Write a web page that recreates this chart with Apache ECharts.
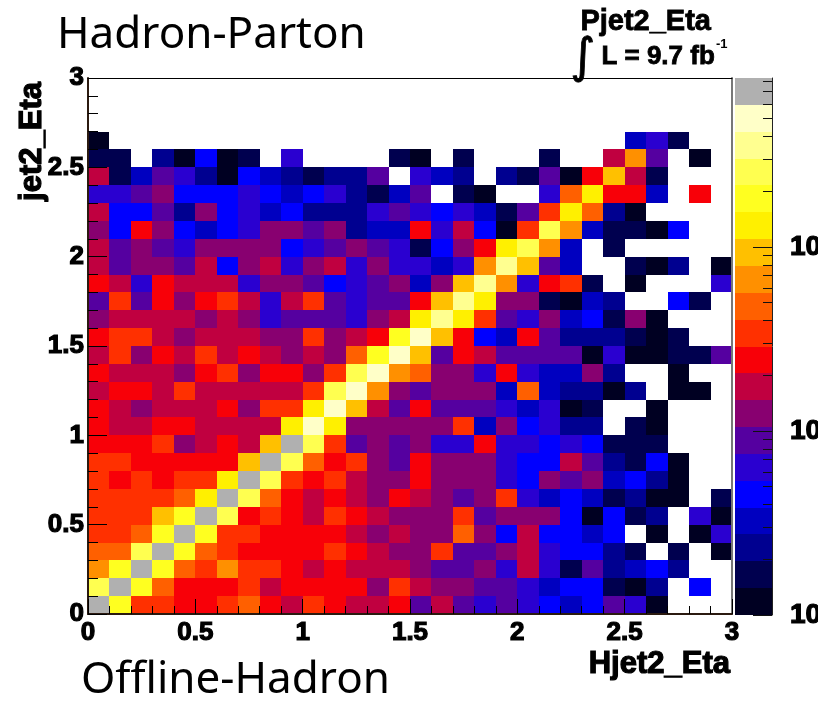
<!DOCTYPE html>
<html><head><meta charset="utf-8">
<style>html,body{margin:0;padding:0;background:#fff;overflow:hidden}#c{width:818px;height:703px}</style>
<script src="https://cdn.jsdelivr.net/npm/echarts@6/dist/echarts.min.js"></script>
</head><body><div id="c"></div>
<script>
const _ = null;
// palette: bottom band to top band of the colour scale
const palette = ['#000022','#00004f','#000090','#0000c0','#0000ff','#2a00d0','#5500a0','#880070','#c00040','#f80008','#ff3000','#ff6000','#ff9000','#ffc000','#fff000','#ffff20','#ffff50','#ffff90','#ffffc8','#b0b0b0'];
const bandLevels = [0,1,2,3,4,5,6,7,8,9,10,11,12,13,14,15,16,17,18,19];
// colour-scale level per bin; row00 is the lowest jet2_Eta row
const row29 = [_,_,_,_,_,_,_,_,_,_,_,_,_,_,_,_,_,_,_,_,_,_,_,_,_,_,_,_,_,_];
const row28 = row29, row27 = row29;
const row26 = [0,_,_,_,_,_,_,_,_,_,_,_,_,_,_,_,_,_,_,_,_,_,_,_,_,3,5,1,_,_];
const row25 = [1,1,_,2,0,4,0,1,_,5,_,_,_,_,1,0,_,1,_,_,_,1,_,_,8,12,6,_,0,_];
const row24 = [8,1,3,6,5,2,0,4,3,2,1,2,2,6,_,5,3,2,_,2,1,6,0,9,13,8,1,_,_,_];
const row23 = [5,5,6,7,4,4,4,5,4,3,4,5,2,1,3,6,_,1,0,_,_,5,11,14,9,9,3,_,9,_];
const row22 = [8,4,4,6,2,7,4,5,3,4,2,2,2,5,6,5,4,5,3,1,6,10,14,11,2,0,_,_,_,_];
const row21 = [7,4,9,7,4,3,4,5,7,7,6,7,2,3,3,9,5,8,4,0,10,16,12,3,1,1,0,4,_,_];
const row20 = [8,6,7,6,5,7,7,7,7,4,5,6,7,6,5,1,4,7,9,14,16,12,3,_,1,_,_,_,_,_];
const row19 = [8,6,7,7,6,8,4,7,8,5,7,8,5,7,5,5,3,5,12,17,13,6,3,_,_,1,0,2,_,0];
const row18 = [9,8,5,9,8,8,8,5,7,7,6,4,5,6,7,3,7,13,17,12,5,9,10,1,_,0,_,_,_,5];
const row17 = [6,10,6,9,7,9,10,8,5,8,10,6,5,6,6,9,13,17,14,7,7,1,0,3,2,_,_,4,1,_];
const row16 = [7,8,8,8,8,7,8,7,5,6,6,6,5,7,8,14,17,14,10,6,5,7,3,4,1,7,0,_,_,_];
const row15 = [9,10,10,8,7,8,8,8,7,7,10,7,8,9,15,18,13,9,4,3,9,6,2,2,2,1,0,1,_,_];
const row14 = [8,10,7,9,8,10,8,9,8,7,8,7,11,15,18,13,6,9,8,6,6,6,6,0,5,0,0,1,1,6];
const row13 = [9,8,8,8,7,9,10,7,9,9,7,10,16,18,12,11,7,7,5,9,5,3,3,7,2,_,_,0,_,_];
const row12 = [8,9,9,8,10,8,8,8,8,8,10,16,18,12,7,6,7,7,7,3,11,3,2,2,0,2,_,0,0,_];
const row11 = [9,8,7,8,8,8,9,7,10,10,14,18,13,8,6,9,6,6,6,5,3,5,0,1,_,_,0,_,_,_];
const row10 = [9,8,8,9,9,8,8,8,8,14,18,14,7,7,7,7,7,10,3,7,4,5,2,2,_,1,0,_,_,_];
const row09 = [9,9,9,10,7,8,9,8,13,19,16,10,6,7,6,7,5,5,9,5,5,4,5,4,1,1,1,_,_,_];
const row08 = [10,10,9,9,9,9,9,13,19,16,11,9,10,7,6,9,7,7,7,5,4,4,8,6,2,1,4,0,_,_];
const row07 = [10,9,10,9,10,10,14,19,16,10,9,10,8,7,7,9,7,7,7,5,4,7,6,7,3,4,2,0,_,_];
const row06 = [10,10,10,10,11,14,19,16,11,9,8,9,8,7,9,8,7,6,7,10,5,3,4,3,1,2,0,0,_,1];
const row05 = [10,10,10,13,15,19,16,9,10,9,8,10,9,8,7,7,7,10,6,7,7,7,4,0,4,1,2,_,5,0];
const row04 = [10,10,11,15,19,15,10,10,9,9,9,9,8,7,8,7,7,11,7,4,8,4,4,3,4,_,0,_,0,5];
const row03 = [11,11,16,19,15,11,10,9,9,9,9,10,9,8,7,7,10,6,6,7,8,5,4,4,2,1,_,1,_,0];
const row02 = [12,15,19,15,11,10,12,10,10,9,8,9,8,8,8,7,6,6,7,5,8,5,1,6,2,3,4,2,_,_];
const row01 = [16,19,15,11,9,9,9,10,8,9,9,9,9,7,10,8,7,7,6,6,5,3,4,4,1,0,2,_,4,_];
const row00 = [19,15,10,10,9,9,10,11,9,8,10,9,8,8,9,6,8,6,5,6,5,4,3,4,6,5,0,_,_,_];
const rows = [row00,row01,row02,row03,row04,row05,row06,row07,row08,row09,row10,row11,row12,row13,row14,row15,row16,row17,row18,row19,row20,row21,row22,row23,row24,row25,row26,row27,row28,row29];
const binWidth = 0.1;
const zMajorTicks = [1,10,100];
const zMinorTicks = [2,3,4,5,6,7,8,9,20,30,40,50,60,70,80,90,200,300,400,500,600,700,800];
const zMax = 829;

const cells = [];
rows.forEach((row, r) => row.forEach((lvl, c) => { if (lvl !== null) cells.push([c * binWidth, r * binWidth, lvl]); }));

const BOLD = 'Liberation Sans';
const tickLabel = {color:'#000', fontFamily:BOLD, fontWeight:'bold', fontSize:26, textBorderColor:'#000', textBorderWidth:1.2};
const R = Math.round;

const chart = echarts.init(document.getElementById('c'), null, {renderer:'canvas'});
chart.setOption({
  animation:false,
  backgroundColor:'#fff',
  grid:[
    {left:88, top:78, width:644, height:536, show:false, outerBoundsMode:'none'},
    {left:735, top:78, width:37, height:537, show:false, outerBoundsMode:'none'}
  ],
  xAxis:[
    {gridIndex:0, type:'value', min:0, max:3, interval:0.5, z:10, position:'bottom',
     name:'Hjet2_Eta', nameLocation:'end', nameGap:2, nameMoveOverlap:false,
     nameTextStyle:{color:'#000', fontFamily:BOLD, fontWeight:'bold', fontSize:31, align:'right', verticalAlign:'top', padding:[35,4,0,0], textBorderColor:'#000', textBorderWidth:1.2},
     axisLine:{show:true, onZero:false, lineStyle:{color:'#2b1a10', width:2}},
     axisTick:{show:true, inside:true, length:15, lineStyle:{color:'#000', width:1}},
     minorTick:{show:true, splitNumber:5, length:8, lineStyle:{color:'#000', width:1}},
     axisLabel:Object.assign({margin:6, showMinLabel:true, showMaxLabel:true, hideOverlap:false}, tickLabel),
     splitLine:{show:false}},
    {gridIndex:0, type:'value', min:0, max:3, position:'top', z:10,
     axisLine:{show:true, onZero:false, lineStyle:{color:'#000', width:1}}, axisTick:{show:false}, axisLabel:{show:false}, splitLine:{show:false}},
    {gridIndex:1, type:'value', min:0, max:1, show:false}
  ],
  yAxis:[
    {gridIndex:0, type:'value', min:0, max:3, interval:0.5, z:10, position:'left',
     name:'jet2_Eta', nameLocation:'end', nameGap:0, nameRotate:90, nameMoveOverlap:false,
     nameTextStyle:{color:'#000', fontFamily:BOLD, fontWeight:'bold', fontSize:31, align:'right', verticalAlign:'bottom', padding:[0,4,40,0], textBorderColor:'#000', textBorderWidth:1.2},
     axisLine:{show:true, onZero:false, lineStyle:{color:'#2b1a10', width:2}},
     axisTick:{show:true, inside:true, length:19, lineStyle:{color:'#000', width:1}},
     minorTick:{show:true, splitNumber:5, length:10, lineStyle:{color:'#000', width:1}},
     axisLabel:Object.assign({margin:4, showMinLabel:true, showMaxLabel:true, hideOverlap:false}, tickLabel),
     splitLine:{show:false}},
    {gridIndex:0, type:'value', min:0, max:3, position:'right', z:10,
     axisLine:{show:true, onZero:false, lineStyle:{color:'#777', width:2}}, axisTick:{show:false}, axisLabel:{show:false}, splitLine:{show:false}},
    {gridIndex:1, type:'value', min:0, max:bandLevels.length, show:false},
    {gridIndex:1, type:'value', min:0, max:Math.log10(zMax), position:'right', z:10,
     axisLine:{show:true, onZero:false, lineStyle:{color:'#222', width:1}},
     axisTick:{show:true, inside:true, length:19, customValues:zMajorTicks.map(Math.log10), lineStyle:{color:'#111', width:1}},
     axisLabel:Object.assign({}, tickLabel, {margin:18, fontSize:28, customValues:zMajorTicks.map(Math.log10), formatter:()=> '10', showMinLabel:true, showMaxLabel:true, hideOverlap:false}),
     splitLine:{show:false}},
    {gridIndex:1, type:'value', min:0, max:Math.log10(zMax), position:'right', z:10,
     axisLine:{show:false},
     axisTick:{show:true, inside:true, length:9, customValues:zMinorTicks.map(Math.log10), lineStyle:{color:'#111', width:1}},
     axisLabel:{show:false}, splitLine:{show:false}}
  ],
  series:[
    {type:'custom', name:'cells', coordinateSystem:'cartesian2d', xAxisIndex:0, yAxisIndex:0, clip:true, silent:true,
     data:cells,
     encode:{x:0,y:1},
     renderItem:(params, api)=>{
       const x=api.value(0), y=api.value(1), lvl=api.value(2);
       const a=api.coord([x,y]), b=api.coord([x+binWidth,y+binWidth]);
       return {type:'rect', shape:{x:R(a[0]), y:R(b[1]), width:R(b[0])-R(a[0]), height:R(a[1])-R(b[1])}, style:{fill:palette[lvl]}};
     }},
    {type:'custom', name:'scale', coordinateSystem:'cartesian2d', xAxisIndex:2, yAxisIndex:2, silent:true,
     data:bandLevels.map(l=>[l]),
     encode:{y:0},
     renderItem:(params, api)=>{
       const l=api.value(0);
       const a=api.coord([0,l]), b=api.coord([1,l+1]);
       return {type:'rect', shape:{x:R(a[0]), y:R(b[1]), width:R(b[0])-R(a[0]), height:R(a[1])-R(b[1])}, style:{fill:palette[l]}};
     }}
  ],
  graphic:[
    {type:'text', left:57, top:13, style:{text:'Hadron-Parton', font:'44px "Noto Sans"', fill:'#000'}},
    {type:'text', left:81, top:658, style:{text:'Offline-Hadron', font:'44px "Noto Sans"', fill:'#000'}},
    {type:'text', left:580, top:7, style:{text:'Pjet2_Eta', font:'bold 29px "Liberation Sans"', fill:'#000', stroke:'#000', lineWidth:0.8}},
    {type:'text', left:601, top:43, style:{text:'L = 9.7 fb', font:'bold 26px "Liberation Sans"', fill:'#000', stroke:'#000', lineWidth:0.8}},
    {type:'text', left:716, top:38, style:{text:'-1', font:'bold 13px "Liberation Sans"', fill:'#000'}},
    {type:'text', left:570, top:35, style:{text:'∫', font:'48px "DejaVu Sans"', fill:'#000', stroke:'#000', lineWidth:0.8}}
  ]
});
</script></body></html>
